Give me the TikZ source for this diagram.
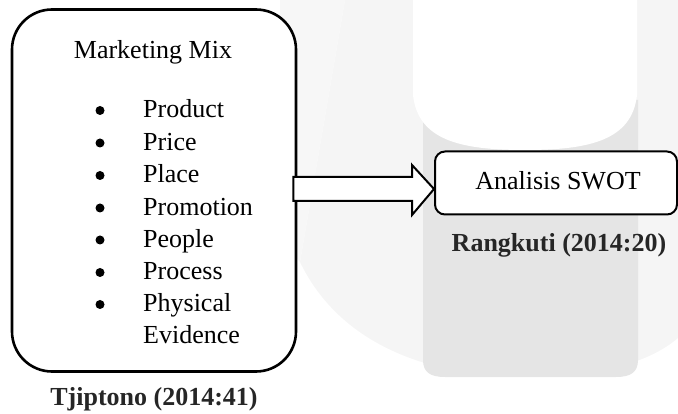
\documentclass[tikz,border=0pt]{standalone}
\usepackage{fontspec}
\setmainfont{Liberation Serif}
\begin{document}
\begin{tikzpicture}[x=1pt,y=-1pt,
  txt/.style={font=\fontsize{26}{30}\selectfont, inner sep=0pt},
  btxt/.style={font=\fontsize{26}{30}\selectfont\bfseries, inner sep=0pt, text=black!85},
  bigbox/.style={draw, line width=2.6pt, rounded corners=40pt, fill=white, inner sep=0pt},
  swotbox/.style={draw, line width=2pt, rounded corners=10pt, fill=white, inner sep=0pt},
  dot/.style={circle, fill=black, inner sep=0pt, minimum size=9pt},
  blockarrow/.style={draw, fill=white, line width=2pt, line join=miter}]
\useasboundingbox (0,0) rectangle (678,414);
% faint watermark
\fill[black!4] (345,0) -- (300,262) .. controls (340,345) and (430,377) .. (527,377)
   .. controls (600,377) and (650,362) .. (678,338) -- (678,0) -- cycle;
\fill[black!3] (280,0) -- (345,0) -- (300,262) -- (280,240) -- cycle;
\fill[black!10] (423,100) -- (423,360) .. controls (423,372) and (430,377) .. (445,377)
   -- (616,377) .. controls (631,377) and (638,372) .. (638,360) -- (638,100) -- cycle;
\fill[white] (413,0) -- (413,95) .. controls (418,140) and (460,150) .. (525,150)
   .. controls (590,150) and (632,140) .. (637,95) -- (637,0) -- cycle;
% main diagram
\node[bigbox, minimum width=284pt, minimum height=362pt] (mm) at (154,190.5) {};
\node[swotbox, minimum width=242pt, minimum height=63pt] (swot) at (556,183) {};
\node[txt, anchor=base] (title) at (153,59) {Marketing Mix};
\foreach \i/\t/\y in {1/Product/118, 2/Price/150.5, 3/Place/183, 4/Promotion/215.5, 5/People/247.5, 6/Process/280, 7/Physical/312} {
  \node[txt, anchor=base west] (it\i) at (143,\y) {\t};
  \node[dot] (b\i) at (100,\y-7.5) {};
}
\node[txt, anchor=base west] (it8) at (143,344) {Evidence};
\node[txt, anchor=base] (swottxt) at (558,190) {Analisis SWOT};
\node[btxt, anchor=base] (rang) at (559,252) {Rangkuti (2014:20)};
\node[btxt, anchor=base] (tjip) at (154,405) {Tjiptono (2014:41)};
% block arrow
\coordinate (tip) at (swot.west |- 0,189);
\coordinate (tail) at ([xshift=-4pt]mm.east |- 0,189);
\draw[blockarrow] ([yshift=-12pt]tail) -- ([xshift=-22pt,yshift=-12pt]tip) -- ([xshift=-22pt,yshift=-26pt]tip)
  -- (tip) -- ([xshift=-22pt,yshift=24pt]tip) -- ([xshift=-22pt,yshift=12pt]tip) -- ([yshift=12pt]tail) -- cycle;
\end{tikzpicture}
\end{document}
